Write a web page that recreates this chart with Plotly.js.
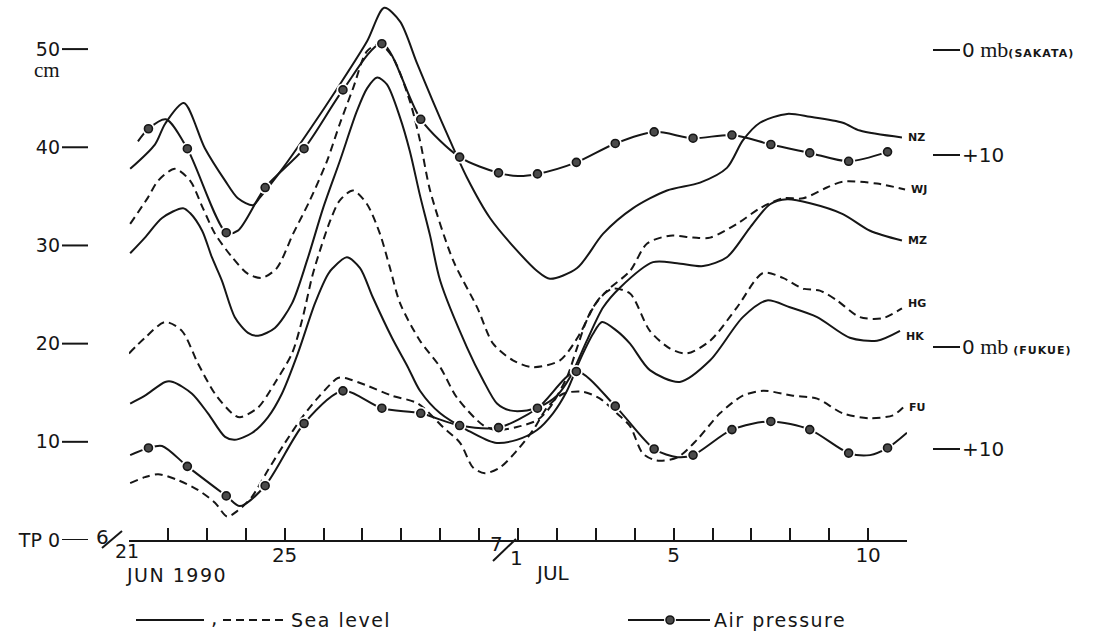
<!DOCTYPE html>
<html><head><meta charset="utf-8">
<script src="https://cdn.plot.ly/plotly-3.0.1.min.js"></script>
<style>html,body{margin:0;padding:0;background:#fff;}#chart{width:1101px;height:632px;}</style>
</head><body><div id="chart"></div>
<script>
// x = days after 21 June 1990 00h ; sea level in cm (stacked, TP 0 datum)
const nzDays = [0.03,0.67,0.93,1.41,1.95,2.47,2.80,3.19,3.37,3.96,4.58,5.42,6.12,6.56,6.97,7.40,7.81,8.25,8.69,9.28,9.97,10.49,10.82,11.52,12.19,12.96,13.83,14.68,15.37,15.78,16.22,16.92,17.51,18.35,18.79,19.87];
const nzCm   = [37.8,40.3,42.4,44.5,39.9,36.6,34.8,34.1,34.9,37.9,41.4,46.4,50.8,54.2,52.8,48.6,44.7,40.7,36.9,32.8,29.5,27.4,26.6,27.7,31.2,33.8,35.6,36.4,37.9,40.7,42.5,43.4,43.1,42.5,41.7,41.0];

const wjDays = [0.03,0.49,0.75,1.18,1.57,1.90,2.21,2.65,3.06,3.42,3.80,4.22,4.65,5.09,5.42,5.76,6.12,6.45,6.79,7.22,7.48,7.74,8.33,8.95,9.36,9.87,10.39,11.08,11.59,11.93,12.29,12.88,13.32,13.91,14.50,14.94,15.63,16.22,16.81,17.33,17.94,18.35,19.23,19.95];
const wjCm   = [32.2,34.9,36.6,37.8,36.6,33.8,31.2,28.8,27.1,26.7,27.7,31.2,34.6,38.6,42.4,46.0,49.8,50.5,49.1,44.7,40.7,35.6,28.5,23.7,20.0,18.3,17.6,18.3,21.0,23.7,25.4,27.4,30.2,31.0,30.8,30.8,32.2,33.8,34.8,34.8,35.9,36.5,36.3,35.7];

const mzDays = [0.03,0.41,0.85,1.39,1.57,1.88,2.13,2.39,2.72,3.06,3.32,3.75,4.19,4.58,4.99,5.42,5.86,6.12,6.38,6.63,6.97,7.22,7.48,7.74,8.00,8.69,9.10,9.46,9.79,10.23,10.57,11.00,11.34,11.77,12.19,12.62,13.47,14.09,14.76,15.37,15.96,16.48,16.92,17.51,18.35,19.05,19.87];
const mzCm   = [29.2,30.8,32.8,33.8,33.3,31.5,28.8,26.4,22.7,21.1,20.8,21.6,24.1,28.5,33.8,38.6,43.7,46.0,47.1,46.4,43.0,39.6,35.1,31.0,26.4,19.6,16.3,13.9,13.2,13.2,13.6,14.7,16.6,20.3,23.7,25.7,28.3,28.2,27.9,28.8,31.8,34.2,34.7,34.3,33.2,31.5,30.5];

const hgDays = [0.0,0.41,0.93,1.36,1.77,2.21,2.65,2.85,3.32,3.75,4.19,4.45,4.70,4.83,5.17,5.42,5.76,6.12,6.45,6.71,6.97,7.48,8.00,8.43,9.10,9.46,9.97,10.49,10.82,11.26,11.52,11.77,12.11,12.44,12.88,13.39,13.91,14.34,14.94,15.63,16.30,16.81,17.33,17.76,18.20,18.79,19.38,19.87];
const hgCm   = [19.0,20.6,22.2,21.3,18.0,14.9,12.9,12.5,13.5,16.0,19.0,22.4,26.7,28.5,32.5,34.6,35.6,34.2,31.2,27.7,24.1,20.3,17.6,14.5,11.7,11.2,11.5,12.2,13.5,16.6,19.6,22.4,24.7,25.6,25.1,21.3,19.5,19.0,20.3,23.7,27.2,26.7,25.6,25.4,24.4,22.7,22.6,23.6];

const hkDays = [0.03,0.41,0.93,1.13,1.62,2.03,2.47,2.72,3.16,3.57,3.93,4.34,4.78,5.12,5.24,5.60,5.94,6.27,6.76,7.17,7.48,8.00,8.69,9.41,9.97,10.49,10.90,11.26,11.59,11.93,12.16,12.54,12.88,13.39,14.16,14.94,15.78,16.40,16.99,17.69,18.53,19.23,19.82];
const hkCm   = [13.9,14.7,16.1,16.1,14.9,12.9,10.5,10.2,10.9,12.5,14.9,19.0,24.1,27.1,27.7,28.8,27.7,24.7,20.6,17.6,15.2,12.9,11.2,9.9,10.2,11.2,12.9,15.2,18.3,21.0,22.2,21.3,20.0,17.3,16.1,18.3,22.7,24.4,23.7,22.7,20.6,20.3,21.3];

const fuDays = [0.03,0.41,0.75,1.26,1.77,2.21,2.52,2.80,3.16,3.57,4.01,4.45,4.86,5.37,5.55,6.07,6.76,7.43,8.07,8.51,8.84,9.15,9.54,9.97,10.39,10.75,11.16,11.67,12.11,12.54,12.88,13.21,13.57,14.09,14.60,15.19,15.78,16.30,17.07,17.69,18.35,19.05,19.64,19.90];
const fuCm   = [5.8,6.4,6.7,6.1,5.1,3.8,2.4,3.0,4.4,7.1,9.9,12.5,14.5,16.5,16.5,15.8,14.7,13.9,11.5,9.9,7.4,6.8,7.4,9.1,11.2,13.5,14.9,15.1,14.4,12.9,11.6,8.8,8.1,8.4,10.2,12.9,14.7,15.2,14.7,14.4,12.9,12.4,12.7,13.5];

// air pressure anomalies in mb (downward positive), daily means and traced line
const pressDotDays = [0.5,1.5,2.5,3.5,4.5,5.5,6.5,7.5,8.5,9.5,10.5,11.5,12.5,13.5,14.5,15.5,16.5,17.5,18.5,19.5];
const sakataDotMb  = [7.5,9.4,17.4,13.1,9.4,3.8,-0.6,6.6,10.2,11.7,11.8,10.7,8.9,7.8,8.4,8.1,9.0,9.8,10.6,9.7];
const sakataLineDays = [0.23,0.5,0.95,1.5,2.5,2.8,3.5,4.5,5.5,6.5,7.5,8.5,9.5,10.0,10.5,11.5,12.5,13.5,14.5,15.5,16.5,17.5,18.5,19.5];
const sakataLineMb   = [8.7,7.5,6.6,9.4,17.4,17.2,13.1,9.4,3.8,-0.6,6.6,10.2,11.7,12.0,11.8,10.7,8.9,7.8,8.4,8.1,9.0,9.8,10.6,9.7];
const fukueDotMb   = [9.9,11.7,14.6,13.6,7.5,4.3,6.0,6.5,7.7,7.9,6.0,2.4,5.8,10.0,10.6,8.1,7.3,8.1,10.4,9.9];
const fukueLineDays = [0.03,0.5,0.85,1.5,2.5,2.85,3.5,4.5,5.5,6.5,7.5,8.5,9.5,10.5,11.5,12.5,13.5,14.1,14.5,15.5,16.5,17.5,18.5,19.05,19.5,20.0];
const fukueLineMb   = [10.6,9.9,9.7,11.7,14.6,15.6,13.6,7.5,4.3,6.0,6.5,7.7,7.9,6.0,2.4,5.8,10.0,10.8,10.6,8.1,7.3,8.1,10.4,10.6,9.9,8.4];

// axis ticks
const dayTicks = [0,1,2,3,4,5,6,7,8,9,10,11,12,13,14,15,16,17,18,19,20];
const dayTickText = ['','','','','25','','','','','','','','','','5','','','','','10',''];
const cmTicks = [0,10,20,30,40,50];
const cmTickText = ['TP 0','10','20','30','40','50'];
const mbTicks = [0,10];
const SERIF = 'font-family:Liberation Serif;font-size:22px';
const SMALL = 'font-size:11px;font-weight:bold;letter-spacing:1px';
const sakataTickText = ['0<span style="'+SERIF+'"> mb</span><span style="'+SMALL+'">(SAKATA)</span>','+10'];
const fukueTickText  = ['0<span style="'+SERIF+'"> mb</span><span style="'+SMALL+'"> (FUKUE)</span>','+10'];

const INK = '#161616';
const L = 129, W = 778, H = 540;
const px = p => (p - L) / W;
const py = p => (H - p) / H;

function sea(x, y, dashed) {
  return {x, y, type:'scatter', mode:'lines', hoverinfo:'skip',
    line:{color:INK, width:2, dash: dashed ? '8px,5px' : 'solid', shape:'spline', smoothing:0.8}};
}
function pline(x, y, ax) {
  return {x, y, yaxis:ax, type:'scatter', mode:'lines', hoverinfo:'skip',
    line:{color:INK, width:2, shape:'spline', smoothing:0.8}};
}
function halo(x, y, ax) {
  return {x, y, yaxis:ax, type:'scatter', mode:'markers', hoverinfo:'skip',
    marker:{size:13, color:'#fff'}};
}
function dots(x, y, ax) {
  return {x, y, yaxis:ax, type:'scatter', mode:'markers', hoverinfo:'skip',
    marker:{size:8, color:'#4a4a4a', line:{color:INK, width:1.6}}};
}

const data = [
  sea(nzDays, nzCm, false), sea(wjDays, wjCm, true), sea(mzDays, mzCm, false),
  sea(hgDays, hgCm, true), sea(hkDays, hkCm, false), sea(fuDays, fuCm, true),
  pline(sakataLineDays, sakataLineMb, 'y2'), pline(fukueLineDays, fukueLineMb, 'y3'),
  halo(pressDotDays, sakataDotMb, 'y2'), halo(pressDotDays, fukueDotMb, 'y3'),
  dots(pressDotDays, sakataDotMb, 'y2'), dots(pressDotDays, fukueDotMb, 'y3')
];

const shapes = [];
cmTicks.forEach(v => shapes.push({type:'line', xref:'paper', yref:'y', x0:px(62), x1:px(88), y0:v, y1:v, line:{color:INK, width:2}}));
mbTicks.forEach(v => {
  shapes.push({type:'line', xref:'paper', yref:'y2', x0:px(933), x1:px(960), y0:v, y1:v, line:{color:INK, width:2}});
  shapes.push({type:'line', xref:'paper', yref:'y3', x0:px(933), x1:px(960), y0:v, y1:v, line:{color:INK, width:2}});
});
// date slashes (6/21 and 7/1)
shapes.push({type:'line', xref:'paper', yref:'paper', x0:px(102), x1:px(122), y0:py(548), y1:py(531), line:{color:INK, width:2}});
shapes.push({type:'line', xref:'paper', yref:'paper', x0:px(493), x1:px(516), y0:py(561), y1:py(539), line:{color:INK, width:2}});
// legend samples
shapes.push({type:'line', xref:'paper', yref:'paper', x0:px(136), x1:px(204), y0:py(620), y1:py(620), line:{color:INK, width:2}});
shapes.push({type:'line', xref:'paper', yref:'paper', x0:px(223), x1:px(285), y0:py(620), y1:py(620), line:{color:INK, width:2, dash:'8px,5px'}});
shapes.push({type:'line', xref:'paper', yref:'paper', x0:px(628), x1:px(710), y0:py(620), y1:py(620), line:{color:INK, width:2}});
shapes.push({type:'circle', xref:'paper', yref:'paper', x0:px(664), x1:px(676), y0:py(626), y1:py(614), line:{width:0}, fillcolor:'#fff'});
shapes.push({type:'circle', xref:'paper', yref:'paper', x0:px(666), x1:px(674), y0:py(624), y1:py(616), line:{color:INK, width:1.6}, fillcolor:'#4a4a4a'});

const lab = (t, x, y) => ({text:t, x:x[x.length-1], y:y[y.length-1], xref:'x', yref:'y', xanchor:'left', yanchor:'middle', xshift:4, showarrow:false,
  font:{family:'DejaVu Sans', size:11, color:INK, weight:'bold'}});
const dateTxt = (t, x, xs, ys, size, spacing) => ({text: spacing ? '<span style="letter-spacing:'+spacing+'px">'+t+'</span>' : t,
  x:x, y:0, xref:'x', yref:'paper', xshift:xs, yshift:ys, xanchor:'center', yanchor:'middle', showarrow:false,
  font:{family:'DejaVu Sans', size:size, color:INK}});

const annotations = [
  {text:'cm', xref:'paper', yref:'y', x:px(47), y:50, yshift:-21, xanchor:'center', yanchor:'middle', showarrow:false, font:{family:'Liberation Serif', size:21, color:INK}},
  lab('NZ', nzDays, nzCm), lab('WJ', wjDays, wjCm), lab('MZ', mzDays, mzCm),
  Object.assign(lab('HG', hgDays, hgCm), {yshift:5}), Object.assign(lab('HK', hkDays, hkCm), {yshift:-6}), lab('FU', fuDays, fuCm),
  dateTxt('6', 0, -27, 3, 20), dateTxt('21', 0, -2, -11, 19), dateTxt('JUN 1990', 0, 47, -35, 19, 1.5),
  dateTxt('7', 10, -22, -4, 20), dateTxt('1', 10, -2, -18, 20), dateTxt('JUL', 10, 34, -33, 20),
  {text:',', xref:'paper', yref:'paper', x:px(214), y:py(618), xanchor:'center', yanchor:'middle', showarrow:false, font:{family:'DejaVu Sans', size:20, color:INK}},
  {text:'<span style="letter-spacing:1.5px">Sea level</span>', xref:'paper', yref:'paper', x:px(289), y:py(620), xanchor:'left', yanchor:'middle', showarrow:false, font:{family:'DejaVu Sans', size:19, color:INK}},
  {text:'<span style="letter-spacing:1.5px">Air pressure</span>', xref:'paper', yref:'paper', x:px(712), y:py(620), xanchor:'left', yanchor:'middle', showarrow:false, font:{family:'DejaVu Sans', size:19, color:INK}}
];

const layout = {
  width:1101, height:632, margin:{l:129, r:194, t:0, b:92},
  paper_bgcolor:'#fff', plot_bgcolor:'#fff', showlegend:false,
  font:{family:'DejaVu Sans', color:INK, size:19},
  xaxis:{range:[0,20], tickmode:'array', tickvals:dayTicks, ticktext:dayTickText, ticks:'inside', ticklen:12, tickwidth:2, tickcolor:INK,
    showline:true, linewidth:2, linecolor:INK, showgrid:false, zeroline:false, tickfont:{size:20, color:INK}, ticklabelstandoff:-4},
  yaxis:{range:[0,55], tickmode:'array', tickvals:cmTicks, ticktext:cmTickText, ticks:'', showline:false, showgrid:false, zeroline:false,
    ticklabelstandoff:68, tickfont:{size:19, color:INK}},
  yaxis2:{overlaying:'y', side:'right', anchor:'x', range:[46.667,-4.762], tickmode:'array', tickvals:mbTicks, ticktext:sakataTickText, ticks:'',
    showline:false, showgrid:false, zeroline:false, ticklabelstandoff:54, tickfont:{size:20, color:INK}},
  yaxis3:{overlaying:'y', side:'right', anchor:'x', range:[18.922,-34.020], tickmode:'array', tickvals:mbTicks, ticktext:fukueTickText, ticks:'',
    showline:false, showgrid:false, zeroline:false, ticklabelstandoff:54, tickfont:{size:20, color:INK}},
  shapes, annotations
};

Plotly.newPlot('chart', data, layout, {staticPlot:true, displayModeBar:false});
</script></body></html>
